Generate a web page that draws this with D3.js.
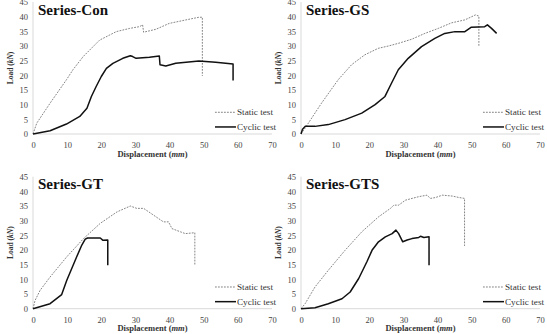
<!DOCTYPE html>
<html>
<head>
<meta charset="utf-8">
<script src="https://cdn.jsdelivr.net/npm/d3@7"></script>
<style>
  body { margin: 0; background: #fff; }
</style>
</head>
<body>
<div id="chart-area"></div>
<script>
// displacement (mm), load (kN)
var conStatic = [[0,0],[1.1,3.7],[5,10.5],[9.8,18.5],[11.7,21.9],[14.7,26.4],[19.5,32],[24.4,34.9],[28.3,36],[31.2,36.6],[32.1,37.2],[32.4,34.7],[36,35.7],[39.9,37.7],[44.8,38.9],[48.6,39.8],[49.6,39.8],[49.6,19.8]];
var conCyclic = [[0,0],[5,1.1],[9.8,3.4],[13.7,6],[15.8,8.8],[17.1,12.8],[18.5,16.2],[20,19.6],[21.5,22.4],[23.4,24.1],[26.3,25.8],[28.5,26.7],[29.2,26.4],[30.2,25.8],[34.1,26.2],[37,26.6],[37.2,23.6],[38.9,23.2],[41.8,24.1],[48.6,24.9],[53.5,24.5],[58.6,23.9],[58.6,18.2]];

var gsStatic = [[0,0],[1.2,2],[6,10.5],[10.9,18.5],[14.8,23.6],[18.7,27],[22.6,29.2],[25.6,30],[28.5,30.9],[32.4,32.3],[36.3,34.3],[40.2,36],[44.1,37.9],[48,38.9],[51.1,40.6],[52.1,40.2],[52.1,29.8]];
var gsCyclic = [[0,0],[0.4,1.5],[1.2,2.6],[4.1,2.6],[8,3.2],[12.9,4.9],[17.8,7.1],[21.7,10],[24.6,12.8],[26.5,17.3],[28.5,21.9],[31.4,25.8],[35.3,29.8],[39.2,32.6],[42.1,34.3],[45.1,34.9],[48,34.9],[49.9,36.4],[53.8,36.6],[54.6,37.2],[55.8,36],[57.3,34.3]];

var gtStatic = [[0,0],[0.6,2.8],[2.1,6.3],[5,10.8],[9.9,17.7],[14.8,23.9],[19.7,29.1],[24.6,33],[28.5,35],[30.4,34.2],[32.4,34.2],[35.3,31.9],[38.2,29.6],[39.7,29.6],[40.7,27.3],[43.2,26.2],[44.6,25.6],[47.4,25.9],[47.4,14.8]];
var gtCyclic = [[0,0],[5,1.7],[8.4,4.8],[9.9,9.7],[12.8,17.7],[14.3,21.7],[15.3,23.7],[16,24.1],[19.7,24.1],[20.5,23.3],[21.9,23.4],[21.9,14.8]];

var gtsStatic = [[0,0],[1.2,1.7],[4.1,7.4],[8,13.1],[12.9,19.9],[17.8,26.2],[22.7,31.3],[26.2,34.2],[27.2,35.3],[28.6,35.3],[30.6,37],[34.5,38.2],[36.9,38.7],[37.9,37.6],[39.4,37.9],[41.4,38.7],[44.3,38.4],[46.3,37.9],[47.9,37.6],[47.9,21.4]];
var gtsCyclic = [[0,0],[4.1,0.3],[8,1.7],[12,3.4],[14.4,5.7],[16.9,10.3],[19.3,16],[20.8,19.9],[22.7,22.8],[24.7,24.5],[26.7,25.6],[27.8,26.8],[28.6,25.6],[29.8,22.8],[31.1,23.4],[32.5,23.9],[34.5,24.3],[35,24.7],[36,24.3],[37.5,24.5],[37.5,14.8]];

var titles = ["Series-Con", "Series-GS", "Series-GT", "Series-GTS"];
var xTicks = [0, 10, 20, 30, 40, 50, 60, 70];
var yTicks = [0, 5, 10, 15, 20, 25, 30, 35, 40, 45];
var legendNames = ["Static test", "Cyclic test"];

var serif = "'Liberation Serif', Tinos, 'Times New Roman', Times, 'DejaVu Serif', serif";

var panels = [
  { title: titles[0], stat: conStatic, cyc: conCyclic, left: 33, bottom: 134 },
  { title: titles[1], stat: gsStatic, cyc: gsCyclic, left: 301, bottom: 134 },
  { title: titles[2], stat: gtStatic, cyc: gtCyclic, left: 33, bottom: 308.7 },
  { title: titles[3], stat: gtsStatic, cyc: gtsCyclic, left: 301, bottom: 308.7 }
];

var width = 239
var height = 132

var svg = d3.select("#chart-area")
  .append("svg")
  .attr("width", 547)
  .attr("height", 334)

panels.forEach((p) => {
  var x = d3.scaleLinear().domain([0, 70]).range([p.left, p.left + width]);
  var y = d3.scaleLinear().domain([0, 45]).range([p.bottom, p.bottom - height]);

  var g = svg.append("g");

  // light axis lines
  g.append("line")
    .attr("x1", x(0)).attr("x2", x(70))
    .attr("y1", y(0)).attr("y2", y(0))
    .attr("stroke", "#d9d9d9").attr("stroke-width", 1);
  g.append("line")
    .attr("x1", x(0)).attr("x2", x(0))
    .attr("y1", y(0)).attr("y2", y(45))
    .attr("stroke", "#d9d9d9").attr("stroke-width", 1);

  var xAxis = d3.axisBottom(x).tickValues(xTicks).tickSize(0).tickPadding(8);
  var yAxis = d3.axisLeft(y).tickValues(yTicks).tickSize(0).tickPadding(5);

  var xg = g.append("g")
    .attr("transform", "translate(0," + y(0) + ")")
    .call(xAxis);
  var yg = g.append("g")
    .attr("transform", "translate(" + x(0) + ",0)")
    .call(yAxis);
  [xg, yg].forEach((a) => {
    a.attr("font-family", serif);
    a.select(".domain").remove();
    a.selectAll("text")
      .attr("font-family", serif)
      .attr("font-size", "8.5px")
      .attr("fill", "#444");
  });

  var line = d3.line()
    .x((d) => { return x(d[0]); })
    .y((d) => { return y(d[1]); });

  g.append("path")
    .datum(p.stat)
    .attr("d", line)
    .attr("fill", "none")
    .attr("stroke", "#666")
    .attr("stroke-width", 0.8)
    .attr("stroke-dasharray", "1.8,1.2");

  g.append("path")
    .datum(p.cyc)
    .attr("d", line)
    .attr("fill", "none")
    .attr("stroke", "#111")
    .attr("stroke-width", 1.5)
    .attr("stroke-linejoin", "round");

  // title
  g.append("text")
    .attr("x", x(0) + 5)
    .attr("y", y(45) + 12.5)
    .attr("font-family", serif)
    .attr("font-size", "15px")
    .attr("font-weight", "bold")
    .attr("fill", "#111")
    .text(p.title);

  // axis labels
  g.append("text")
    .attr("x", x(35))
    .attr("y", y(0) + 22.5)
    .attr("text-anchor", "middle")
    .attr("font-family", serif)
    .attr("font-size", "8.5px")
    .attr("font-weight", "bold")
    .attr("fill", "#333")
    .html("Displacement (<tspan font-style='italic'>mm</tspan>)");

  g.append("text")
    .attr("transform", "translate(" + (x(0) - 20) + "," + y(22.5) + ") rotate(-90)")
    .attr("text-anchor", "middle")
    .attr("font-family", serif)
    .attr("font-size", "7.5px")
    .attr("font-weight", "bold")
    .attr("fill", "#333")
    .html("Load (<tspan font-style='italic'>kN</tspan>)");

  // legend
  var lx = x(53.3);
  var ly = [y(7.4), y(2.4)];
  legendNames.forEach((name, i) => {
    g.append("line")
      .attr("x1", lx).attr("x2", lx + 21)
      .attr("y1", ly[i]).attr("y2", ly[i])
      .attr("stroke", i == 0 ? "#666" : "#111")
      .attr("stroke-width", i == 0 ? 0.8 : 1.5)
      .attr("stroke-dasharray", i == 0 ? "1.8,1.2" : null);
    g.append("text")
      .attr("x", lx + 22)
      .attr("y", ly[i] + 3.2)
      .attr("font-family", serif)
      .attr("font-size", "9.2px")
      .attr("fill", "#333")
      .text(name);
  });
});
</script>
</body>
</html>
